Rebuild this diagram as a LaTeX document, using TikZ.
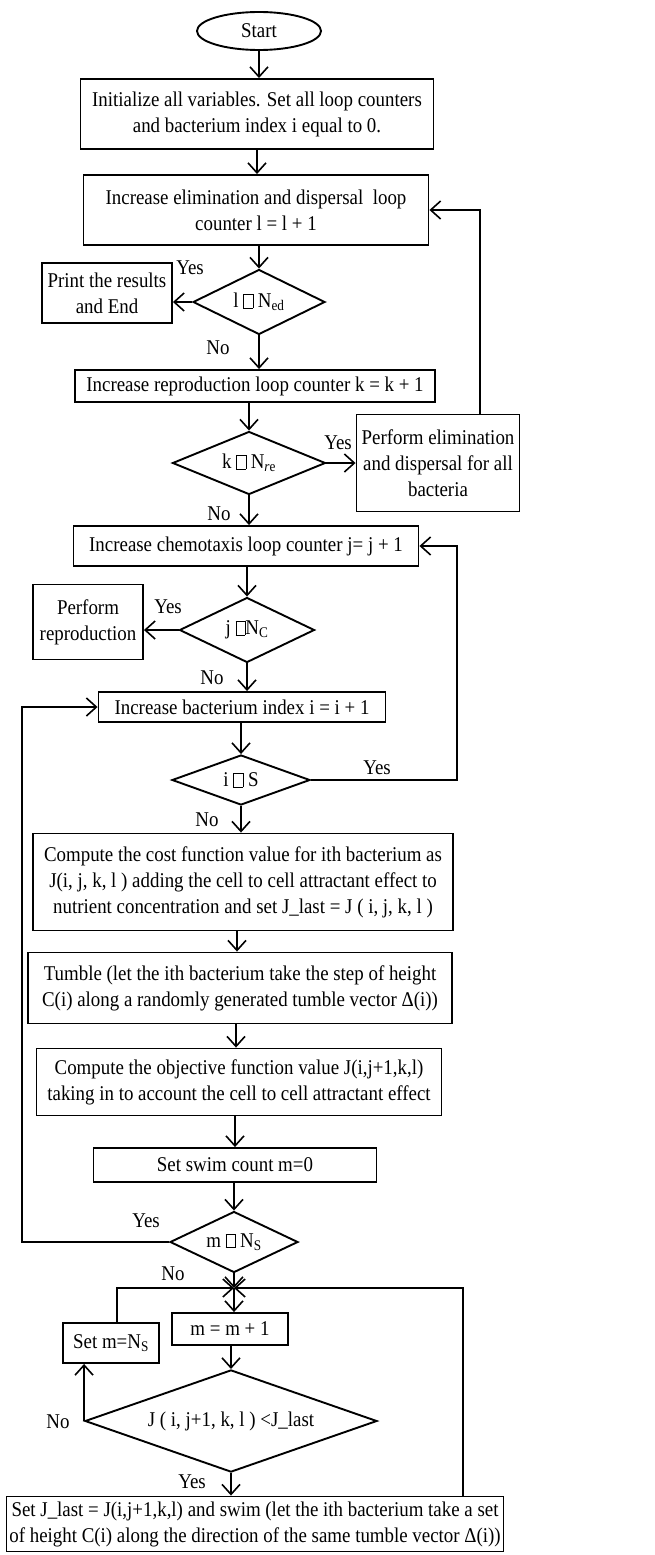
\documentclass[tikz,border=0pt]{standalone}
\usepackage{fontspec}
\setmainfont[FakeStretch=0.9]{Liberation Serif}
\usetikzlibrary{shapes.geometric,arrows.meta}
\newcommand\tofu{{\setlength\fboxsep{0pt}\setlength\fboxrule{0.5pt}\fbox{\rule{0pt}{0.62em}\hspace{0.42em}}}}
\begin{document}
\begin{tikzpicture}[x=1pt,y=-1pt,
  font=\fontsize{21}{26}\selectfont,
  box/.style={draw,line width=1.9pt,align=center,inner sep=1pt},
  dia/.style={diamond,draw,line width=1.9pt,inner sep=0pt,aspect=2,align=center},
  arr/.style={line width=1.6pt,-{Straight Barb[length=10pt,width=18pt,line width=1.6pt]}},
  lbl/.style={inner sep=0pt}]
\useasboundingbox (0,0) rectangle (654,1555);
\coordinate (rx) at (480,0);
\coordinate (rx2) at (457,0);
\coordinate (lx) at (22,0);
\coordinate (rx3) at (463,0);

\node[ellipse,draw,line width=1.9pt,inner sep=0pt,minimum width=124pt,minimum height=38pt] (start) at (259,31) {Start};
\node[box,minimum width=353pt,minimum height=70pt] (init) at (257,114) {Initialize all variables. Set all loop counters\\and bacterium index i equal to 0.};
\node[box,minimum width=345pt,minimum height=70pt] (incL) at (256,210) {Increase elimination and dispersal\ \ loop\\counter l = l + 1};
\node[dia,minimum width=132pt,minimum height=65pt] (dL) at (259,302) {l \tofu\ N\textsubscript{ed}};
\node[box,minimum width=130pt,minimum height=60pt] (print) at (107,293) {Print the results\\and End};
\node[box,minimum width=360pt,minimum height=32pt] (incK) at (255,386) {Increase reproduction loop counter k = k + 1};
\node[dia,minimum width=153pt,minimum height=63pt] (dK) at (249,463) {k \tofu\ N\textsubscript{\textit{r}e}};
\node[box,minimum width=163pt,minimum height=97pt] (elim) at (438,463) {Perform elimination\\and dispersal for all\\bacteria};
\node[box,minimum width=345pt,minimum height=40pt] (incJ) at (246,546) {Increase chemotaxis loop counter j= j + 1};
\node[dia,minimum width=135pt,minimum height=65pt] (dJ) at (247,630) {j \tofu N\textsubscript{C}};
\node[box,minimum width=110pt,minimum height=75pt] (repro) at (88,622) {Perform\\reproduction};
\node[box,minimum width=287pt,minimum height=30pt] (incI) at (242,707) {Increase bacterium index i = i + 1};
\node[dia,minimum width=138pt,minimum height=50pt] (dI) at (241,780) {i \tofu\ S};
\node[box,minimum width=420pt,minimum height=97pt] (cost) at (243,882) {Compute the cost function value for ith bacterium as\\J(i, j, k, l ) adding the cell to cell attractant effect to\\nutrient concentration and set J\_last = J ( i, j, k, l )};
\node[box,minimum width=424pt,minimum height=71pt] (tumble) at (240,988) {Tumble (let the ith bacterium take the step of height\\C(i) along a randomly generated tumble vector Δ(i))};
\node[box,minimum width=405pt,minimum height=67pt] (obj) at (239,1082) {Compute the objective function value J(i,j+1,k,l)\\taking in to account the cell to cell attractant effect};
\node[box,minimum width=283pt,minimum height=34pt] (swim) at (235,1165) {Set swim count m=0};
\node[dia,minimum width=128pt,minimum height=61pt] (dM) at (234,1242) {m \tofu\ N\textsubscript{S}};
\coordinate (J) at (234,1288);
\node[box,minimum width=116pt,minimum height=32pt] (minc) at (230,1329) {m = m + 1};
\node[box,minimum width=96pt,minimum height=40pt] (setm) at (111,1343) {Set m=N\textsubscript{S}};
\node[dia,minimum width=292pt,minimum height=85pt] (dJl) at (231,1421) {J ( i, j+1, k, l ) <J\_last};
\node[box,minimum width=497pt,minimum height=55pt] (last) at (255,1524) {Set J\_last = J(i,j+1,k,l) and swim (let the ith bacterium take a set\\of height C(i) along the direction of the same tumble vector Δ(i))};

% labels
\node[lbl] at (190,268) {Yes};
\node[lbl] at (218,348) {No};
\node[lbl] at (338,443) {Yes};
\node[lbl] at (219,514) {No};
\node[lbl] at (168,607) {Yes};
\node[lbl] at (212,678) {No};
\node[lbl] at (377,768) {Yes};
\node[lbl] at (207,820) {No};
\node[lbl] at (146,1221) {Yes};
\node[lbl] at (173,1274) {No};
\node[lbl] at (58,1422) {No};
\node[lbl] at (192,1482) {Yes};

% connectors
\draw[arr] (start.south) -- (start.south |- init.north);
\draw[arr] (init.south) -- (init.south |- incL.north);
\draw[arr] (dL.north |- incL.south) -- (dL.north);
\draw[arr] (dL.west) -- (dL.west -| print.east);
\draw[arr] (dL.south) -- (dL.south |- incK.north);
\draw[arr] (dK.north |- incK.south) -- (dK.north);
\draw[arr] (dK.east) -- (dK.east -| elim.west);
\draw[arr] (rx |- elim.north) |- (incL.east);
\draw[arr] (dK.south) -- (dK.south |- incJ.north);
\draw[arr] (dJ.north |- incJ.south) -- (dJ.north);
\draw[arr] (dJ.west) -- (dJ.west -| repro.east);
\draw[arr] (dJ.south) -- (dJ.south |- incI.north);
\draw[arr] (dI.north |- incI.south) -- (dI.north);
\draw[arr] (dI.east) -| (rx2 |- incJ.east) -- (incJ.east);
\draw[arr] (dI.south) -- (dI.south |- cost.north);
\draw[arr] ([xshift=-6pt]cost.south) -- ([xshift=-6pt]cost.south |- tumble.north);
\draw[arr] ([xshift=-4pt]tumble.south) -- ([xshift=-4pt]tumble.south |- obj.north);
\draw[arr] ([xshift=-4pt]obj.south) -- ([xshift=-4pt]obj.south |- swim.north);
\draw[arr] (dM.north |- swim.south) -- (dM.north);
\draw[arr] (dM.west) -| (lx |- incI.west) -- (incI.west);
\draw[arr] (dM.south) -- (J);
\draw[arr] (J) -- (J |- minc.north);
\draw[arr] (dJl.north |- minc.south) -- (dJl.north);
\draw[arr] (dJl.west) -- (dJl.west |- setm.south);
\draw[arr] ([xshift=6pt]setm.north) |- (J);
\draw[arr] (rx3 |- last.north) |- (J);
\draw[arr] (dJl.south) -- (dJl.south |- last.north);
\end{tikzpicture}
\end{document}
